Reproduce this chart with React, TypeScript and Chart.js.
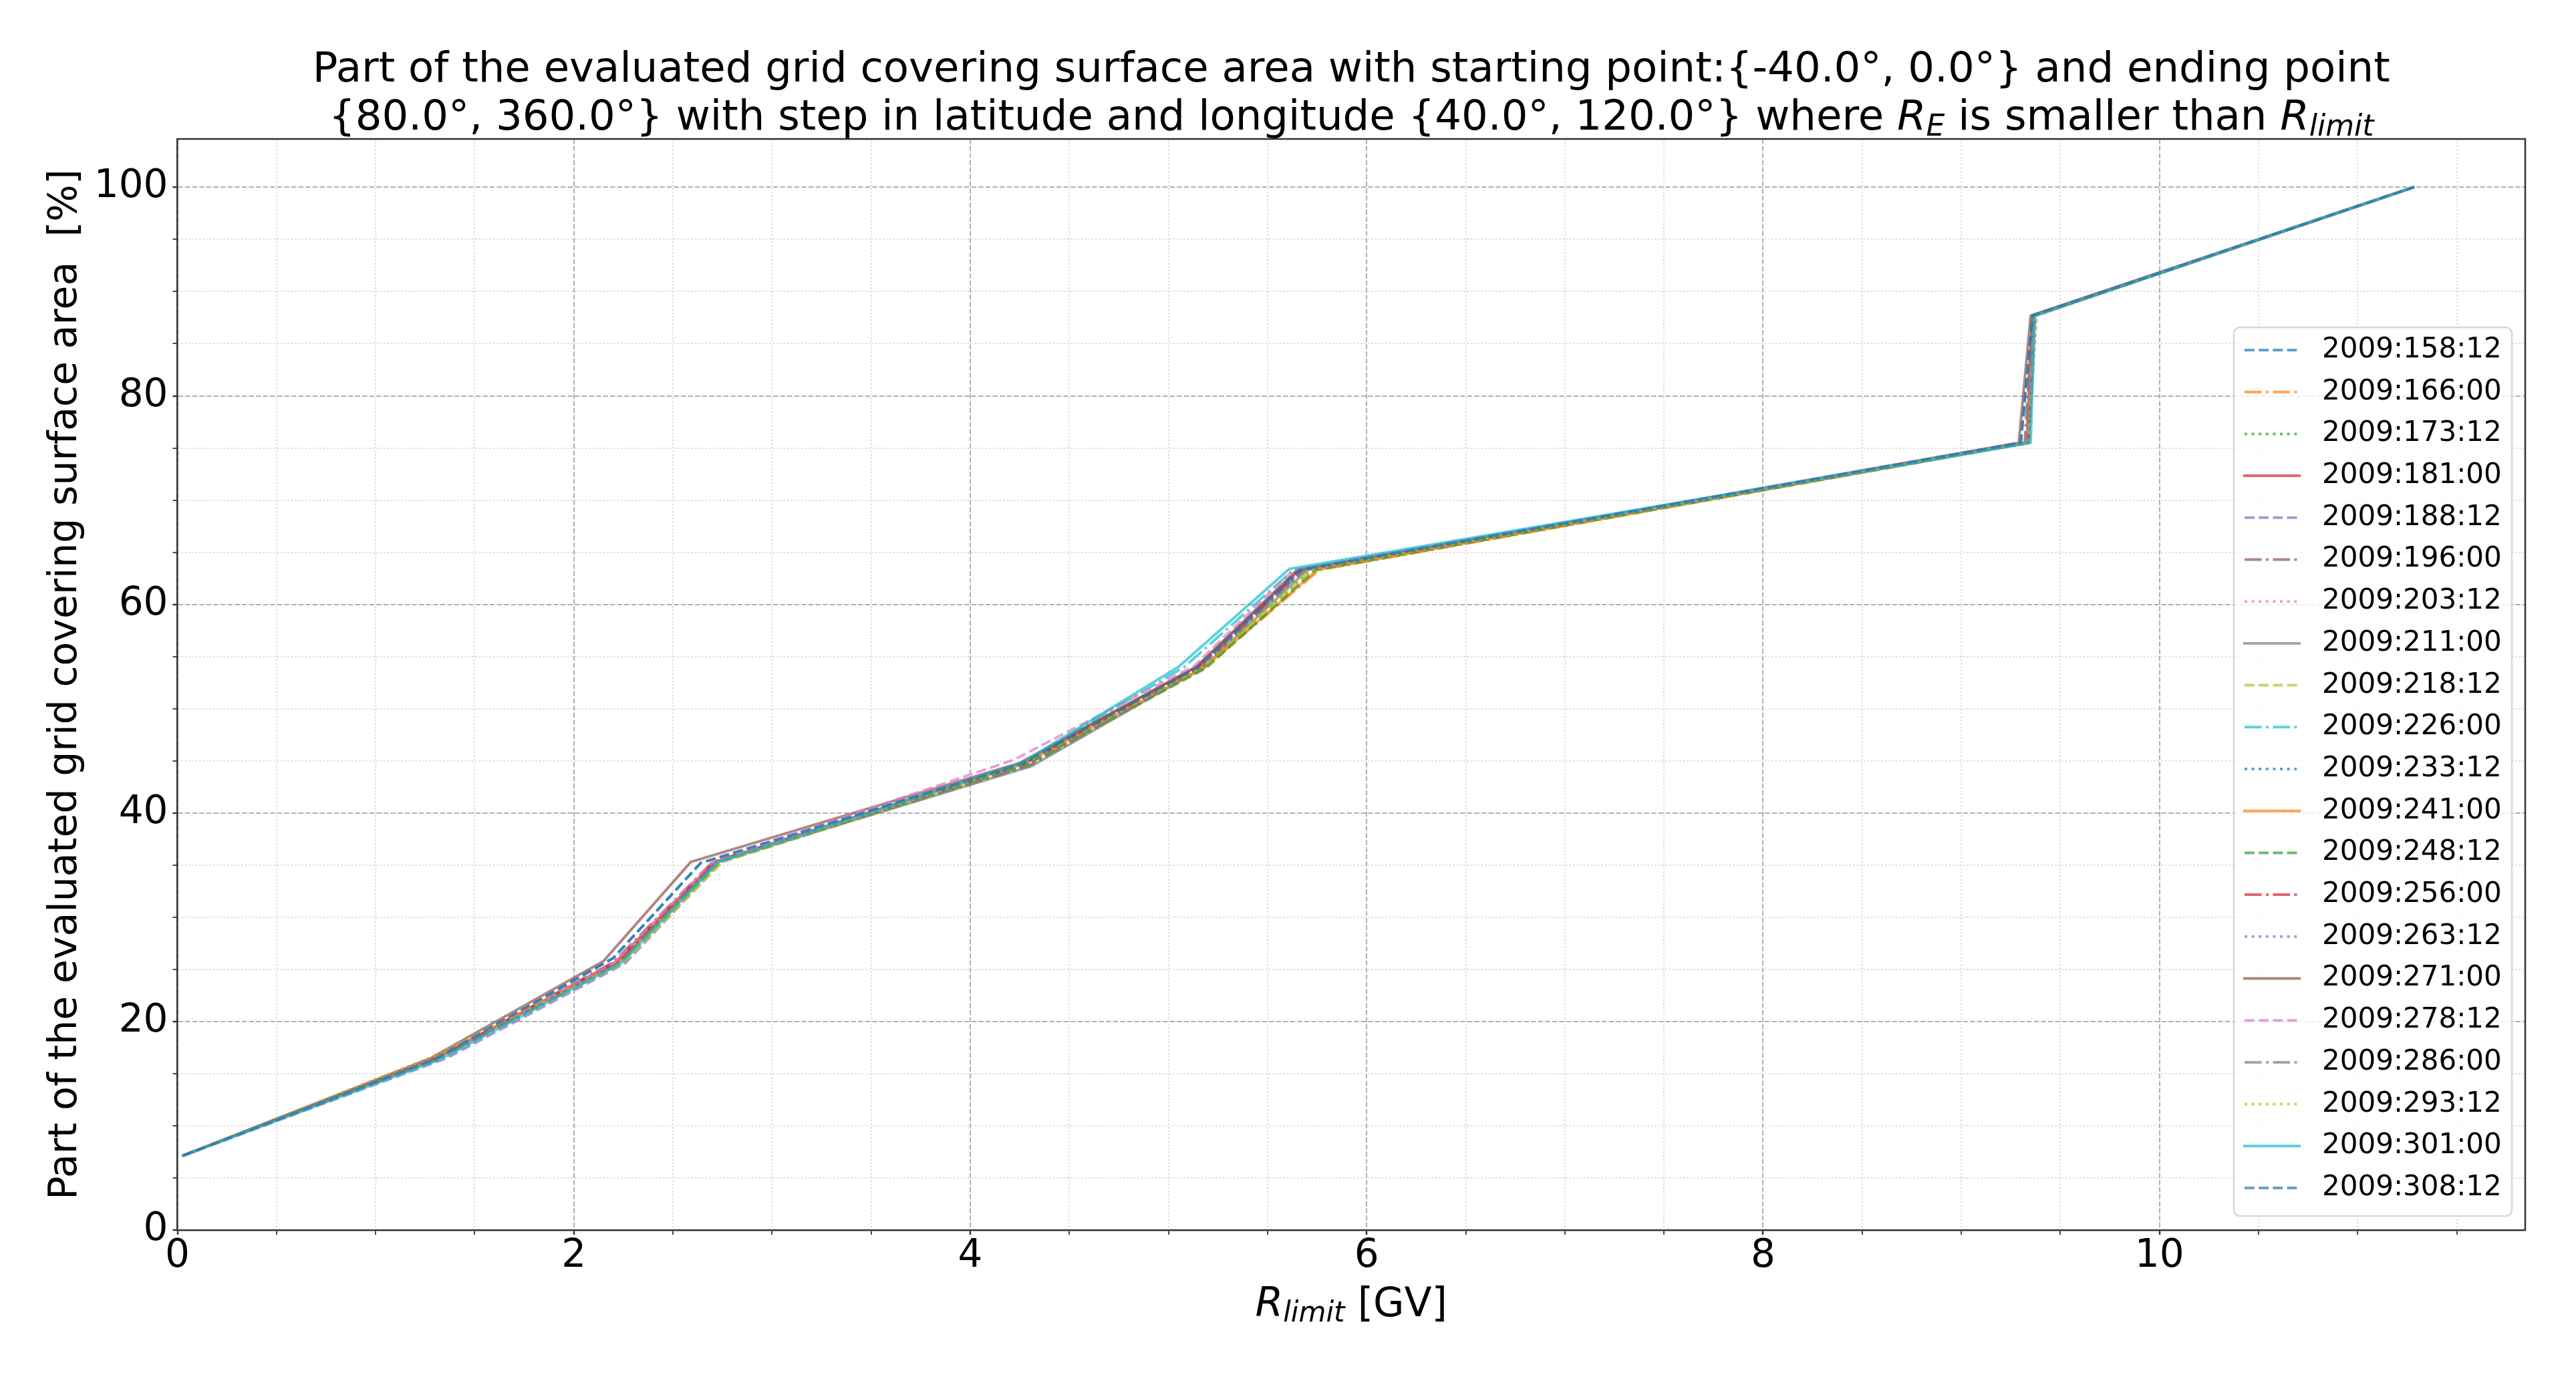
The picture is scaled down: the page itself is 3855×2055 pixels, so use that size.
import React, { useEffect, useRef } from 'react';
import { Chart, registerables } from 'chart.js';

Chart.register(...registerables);

// ---------------- data ----------------
const X_MIN = 0;
const X_MAX = 11.845;
const Y_MIN = 0;
const Y_MAX = 104.64;
const X_MINOR_STEP = 0.5;
const X_MAJOR_STEP = 2;
const Y_MINOR_STEP = 5;
const Y_MAJOR_STEP = 20;

const seriesLabels = [
  '2009:158:12', '2009:166:00', '2009:173:12', '2009:181:00', '2009:188:12',
  '2009:196:00', '2009:203:12', '2009:211:00', '2009:218:12', '2009:226:00',
  '2009:233:12', '2009:241:00', '2009:248:12', '2009:256:00', '2009:263:12',
  '2009:271:00', '2009:278:12', '2009:286:00', '2009:293:12', '2009:301:00',
  '2009:308:12',
];

// [R_limit (GV), part of area (%)]
const d158_12: [number, number][] = [[0.03, 7.15], [1.30, 16.4], [2.20, 26.1], [2.64, 35.2], [4.26, 44.7], [5.16, 54.0], [5.68, 63.3], [9.30, 75.5], [9.36, 87.7], [11.28, 100]];
const d166_00: [number, number][] = [[0.03, 7.15], [1.32, 16.4], [2.24, 25.6], [2.73, 35.3], [4.27, 44.7], [5.18, 53.9], [5.76, 63.3], [9.33, 75.5], [9.37, 87.7], [11.28, 100]];
const d173_12: [number, number][] = [[0.03, 7.15], [1.29, 16.4], [2.22, 25.6], [2.72, 35.3], [4.26, 44.7], [5.17, 54.0], [5.72, 63.3], [9.34, 75.5], [9.37, 87.7], [11.28, 100]];
const d181_00: [number, number][] = [[0.03, 7.15], [1.30, 16.4], [2.21, 25.7], [2.71, 35.3], [4.25, 44.7], [5.14, 54.0], [5.66, 63.3], [9.33, 75.5], [9.36, 87.7], [11.28, 100]];
const d188_12: [number, number][] = [[0.03, 7.15], [1.36, 16.5], [2.26, 25.6], [2.74, 35.3], [4.28, 44.6], [5.16, 54.0], [5.65, 63.3], [9.34, 75.5], [9.37, 87.7], [11.28, 100]];
const d196_00: [number, number][] = [[0.03, 7.15], [1.30, 16.4], [2.20, 25.7], [2.70, 35.3], [4.30, 44.6], [5.17, 54.0], [5.67, 63.3], [9.32, 75.5], [9.36, 87.7], [11.28, 100]];
const d203_12: [number, number][] = [[0.03, 7.15], [1.27, 16.4], [2.20, 25.7], [2.71, 35.3], [4.25, 44.7], [5.12, 53.3], [5.66, 63.3], [9.34, 75.5], [9.38, 87.7], [11.28, 100]];
const d211_00: [number, number][] = [[0.03, 7.15], [1.30, 16.4], [2.22, 25.6], [2.72, 35.3], [4.31, 44.5], [5.18, 54.0], [5.70, 63.3], [9.33, 75.5], [9.36, 87.7], [11.28, 100]];
const d218_12: [number, number][] = [[0.03, 7.15], [1.28, 16.4], [2.25, 25.6], [2.75, 35.3], [4.28, 44.6], [5.18, 54.0], [5.72, 63.3], [9.34, 75.5], [9.37, 87.7], [11.28, 100]];
const d226_00: [number, number][] = [[0.03, 7.15], [1.31, 16.4], [2.23, 25.6], [2.72, 35.3], [4.26, 44.8], [5.08, 54.0], [5.63, 63.3], [9.34, 75.5], [9.37, 87.7], [11.28, 100]];
const d233_12: [number, number][] = [[0.03, 7.15], [1.30, 16.4], [2.22, 25.6], [2.72, 35.3], [4.26, 44.7], [5.15, 54.0], [5.67, 63.3], [9.34, 75.5], [9.37, 87.7], [11.28, 100]];
const d241_00: [number, number][] = [[0.03, 7.15], [1.29, 16.4], [2.22, 25.6], [2.73, 35.3], [4.27, 44.7], [5.18, 53.9], [5.75, 63.3], [9.33, 75.5], [9.37, 87.7], [11.28, 100]];
const d248_12: [number, number][] = [[0.03, 7.15], [1.31, 16.4], [2.23, 25.6], [2.73, 35.3], [4.28, 44.6], [5.19, 53.9], [5.74, 63.3], [9.34, 75.5], [9.37, 87.7], [11.28, 100]];
const d256_00: [number, number][] = [[0.03, 7.15], [1.30, 16.4], [2.22, 25.7], [2.71, 35.3], [4.27, 44.7], [5.15, 54.0], [5.67, 63.3], [9.34, 75.5], [9.37, 87.7], [11.28, 100]];
const d263_12: [number, number][] = [[0.03, 7.15], [1.32, 16.4], [2.23, 25.6], [2.72, 35.3], [4.27, 44.7], [5.16, 54.0], [5.67, 63.3], [9.34, 75.5], [9.37, 87.7], [11.28, 100]];
const d271_00: [number, number][] = [[0.03, 7.15], [1.28, 16.5], [2.15, 25.8], [2.59, 35.3], [4.25, 44.8], [5.14, 54.0], [5.65, 63.3], [9.29, 75.5], [9.35, 87.7], [11.28, 100]];
const d278_12: [number, number][] = [[0.03, 7.15], [1.29, 16.4], [2.21, 25.7], [2.70, 35.3], [4.22, 45.1], [5.13, 54.1], [5.63, 63.3], [9.33, 75.5], [9.37, 87.7], [11.28, 100]];
const d286_00: [number, number][] = [[0.03, 7.15], [1.31, 16.4], [2.23, 25.6], [2.72, 35.3], [4.30, 44.5], [5.17, 54.0], [5.69, 63.3], [9.33, 75.5], [9.36, 87.7], [11.28, 100]];
const d293_12: [number, number][] = [[0.03, 7.15], [1.27, 16.5], [2.24, 25.6], [2.74, 35.3], [4.27, 44.7], [5.17, 54.0], [5.71, 63.3], [9.34, 75.5], [9.38, 87.7], [11.28, 100]];
const d301_00: [number, number][] = [[0.03, 7.15], [1.33, 16.4], [2.24, 25.6], [2.73, 35.3], [4.26, 44.8], [5.05, 54.0], [5.61, 63.4], [9.35, 75.5], [9.37, 87.7], [11.28, 100]];
const d308_12: [number, number][] = [[0.03, 7.15], [1.30, 16.4], [2.20, 26.1], [2.64, 35.2], [4.26, 44.7], [5.15, 54.0], [5.66, 63.3], [9.30, 75.5], [9.36, 87.7], [11.28, 100]];

const seriesData = [
  d158_12, d166_00, d173_12, d181_00, d188_12, d196_00, d203_12, d211_00, d218_12, d226_00,
  d233_12, d241_00, d248_12, d256_00, d263_12, d271_00, d278_12, d286_00, d293_12, d301_00, d308_12,
];

const xTickLabelValues = [0, 2, 4, 6, 8, 10];
const yTickLabelValues = [0, 20, 40, 60, 80, 100];

// ---------------- styles ----------------
const FONT_FAMILY = '"DejaVu Sans", sans-serif';
const TAB10 = ['#1f77b4', '#ff7f0e', '#2ca02c', '#d62728', '#9467bd', '#8c564b', '#e377c2', '#7f7f7f', '#bcbd22', '#17becf'];
const LINE_STYLES = ['--', '-.', ':', '-'];
const LW = 4;
const ALPHA = 0.7;

function rgba(hex: string, a: number) {
  const n = parseInt(hex.slice(1), 16);
  return `rgba(${(n >> 16) & 255},${(n >> 8) & 255},${n & 255},${a})`;
}
function dashFor(style: string): number[] {
  if (style === '--') return [3.7 * LW, 1.6 * LW];
  if (style === '-.') return [6.4 * LW, 1.6 * LW, 1 * LW, 1.6 * LW];
  if (style === ':') return [1 * LW, 1.65 * LW];
  return [];
}
const near = (v: number, step: number) => Math.abs(v / step - Math.round(v / step)) < 1e-6;

type Seg = { t: string; it?: boolean; sub?: boolean };
const titleLine1: Seg[] = [{ t: 'Part of the evaluated grid covering surface area with starting point:{-40.0°, 0.0°} and ending point' }];
const titleLine2: Seg[] = [
  { t: '{80.0°, 360.0°} with step in latitude and longitude {40.0°, 120.0°} where ' },
  { t: 'R', it: true }, { t: 'E', it: true, sub: true },
  { t: ' is smaller than ' },
  { t: 'R', it: true }, { t: 'limit', it: true, sub: true },
];
const xLabel: Seg[] = [{ t: 'R', it: true }, { t: 'limit', it: true, sub: true }, { t: ' [GV]' }];
const yLabel = 'Part of the evaluated grid covering surface area  [%]';

function segFont(s: Seg, size: number) {
  return `${s.it ? 'italic ' : ''}${s.sub ? Math.round(size * 0.7) : size}px ${FONT_FAMILY}`;
}
function drawRich(ctx: CanvasRenderingContext2D, segs: Seg[], cx: number, baseline: number, size: number, subShift: number) {
  let total = 0;
  const widths = segs.map((s) => {
    ctx.font = segFont(s, size);
    const w = ctx.measureText(s.t).width;
    total += w;
    return w;
  });
  let x = cx - total / 2;
  ctx.textAlign = 'left';
  ctx.textBaseline = 'alphabetic';
  ctx.fillStyle = '#000';
  segs.forEach((s, i) => {
    ctx.font = segFont(s, size);
    ctx.fillText(s.t, x, baseline + (s.sub ? subShift : 0));
    x += widths[i];
  });
}

const decorPlugin = {
  id: 'decor',
  afterDraw(chart: any) {
    const ctx: CanvasRenderingContext2D = chart.ctx;
    const ca = chart.chartArea;
    ctx.save();
    // top & right spines
    ctx.strokeStyle = '#333';
    ctx.lineWidth = 2.5;
    ctx.setLineDash([]);
    ctx.beginPath();
    ctx.moveTo(ca.left, ca.top);
    ctx.lineTo(ca.right, ca.top);
    ctx.lineTo(ca.right, ca.bottom);
    ctx.stroke();

    // legend
    const lw = 416, lh = 1330;
    const left = ca.right - 20 - lw;
    const top = ca.bottom - 21 - lh;
    ctx.beginPath();
    (ctx as any).roundRect(left, top, lw, lh, 9);
    ctx.fillStyle = 'rgba(255,255,255,0.8)';
    ctx.fill();
    ctx.strokeStyle = '#d6d6d6';
    ctx.lineWidth = 2.5;
    ctx.stroke();
    chart.data.datasets.forEach((ds: any, i: number) => {
      const y = top + 34 + i * 62.7;
      ctx.save();
      ctx.strokeStyle = ds.borderColor;
      ctx.lineWidth = ds.borderWidth;
      ctx.setLineDash(ds.borderDash || []);
      ctx.lineCap = ds.borderCapStyle;
      ctx.beginPath();
      ctx.moveTo(left + 16, y);
      ctx.lineTo(left + 98, y);
      ctx.stroke();
      ctx.restore();
      ctx.fillStyle = '#000';
      ctx.font = `42px ${FONT_FAMILY}`;
      ctx.textAlign = 'left';
      ctx.textBaseline = 'middle';
      ctx.fillText(ds.label, left + 132, y);
    });

    // title and x label
    const cx = (ca.left + ca.right) / 2;
    drawRich(ctx, titleLine1, cx, 122, 62.5, 9);
    drawRich(ctx, titleLine2, cx, 194, 62.5, 9);
    drawRich(ctx, xLabel, cx, 1970, 60, 8);
    ctx.restore();
  },
};

export default function App() {
  const ref = useRef<HTMLCanvasElement | null>(null);
  useEffect(() => {
    document.body.style.margin = '0';
    const canvas = ref.current;
    if (!canvas) return;
    Chart.defaults.font.family = FONT_FAMILY;
    Chart.defaults.color = '#000';

    const datasets = seriesData.map((pts, i) => {
      const style = LINE_STYLES[i % 4];
      return {
        label: seriesLabels[i],
        data: pts.map(([x, y]) => ({ x, y })),
        borderColor: rgba(TAB10[i % 10], ALPHA),
        backgroundColor: rgba(TAB10[i % 10], ALPHA),
        borderWidth: LW,
        borderDash: dashFor(style),
        borderCapStyle: style === '-' ? 'square' : 'butt',
        borderJoinStyle: 'round',
        pointRadius: 0,
        pointHoverRadius: 0,
        tension: 0,
        fill: false,
        order: seriesData.length - i,
      };
    });

    const chart = new Chart(canvas, {
      type: 'line',
      data: { datasets } as any,
      plugins: [decorPlugin as any],
      options: {
        animation: false,
        responsive: false,
        devicePixelRatio: 1,
        layout: { padding: { left: 0, top: 208, right: 76, bottom: 0 } },
        plugins: {
          legend: { display: false },
          title: { display: false },
          tooltip: { enabled: false },
        },
        scales: {
          x: {
            type: 'linear',
            min: X_MIN,
            max: X_MAX,
            afterFit: (s: any) => { s.height = 214; },
            ticks: {
              stepSize: X_MINOR_STEP,
              autoSkip: false,
              includeBounds: false,
              maxRotation: 0,
              minRotation: 0,
              padding: 3.5,
              color: '#000',
              font: { size: 58, lineHeight: 1 },
              callback: (v: any) => (xTickLabelValues.some((t) => Math.abs(t - v) < 1e-6) ? String(Math.round(v)) : ''),
            },
            grid: {
              color: (c: any) => (c.tick && near(c.tick.value, X_MAJOR_STEP) ? '#b0b0b0' : '#d6d6d6'),
              lineWidth: 2,
              tickLength: 7,
              tickColor: '#333',
              tickWidth: (c: any) => (c.tick && near(c.tick.value, X_MAJOR_STEP) ? 2.5 : 1.8),
            },
            border: {
              display: true,
              color: '#333',
              width: 2.5,
              dash: (c: any) => (!c.tick ? [] : near(c.tick.value, X_MAJOR_STEP) ? [7.4, 3.2] : [2, 3.3]),
            },
          },
          y: {
            type: 'linear',
            min: Y_MIN,
            max: Y_MAX,
            afterFit: (s: any) => { s.width = 265.5; },
            ticks: {
              stepSize: Y_MINOR_STEP,
              autoSkip: false,
              includeBounds: false,
              padding: 7,
              color: '#000',
              font: { size: 58, lineHeight: 1 },
              callback: (v: any) => (yTickLabelValues.some((t) => Math.abs(t - v) < 1e-6) ? String(Math.round(v)) : ''),
            },
            grid: {
              color: (c: any) => (c.tick && near(c.tick.value, Y_MAJOR_STEP) ? '#b0b0b0' : '#d6d6d6'),
              lineWidth: 2,
              tickLength: 7,
              tickColor: '#333',
              tickWidth: (c: any) => (c.tick && near(c.tick.value, Y_MAJOR_STEP) ? 2.5 : 1.8),
            },
            border: {
              display: true,
              color: '#333',
              width: 2.5,
              dash: (c: any) => (!c.tick ? [] : near(c.tick.value, Y_MAJOR_STEP) ? [7.4, 3.2] : [2, 3.3]),
            },
            title: {
              display: true,
              text: yLabel,
              color: '#000',
              font: { size: 58.5, lineHeight: 1.2 },
              padding: { top: 64, bottom: 0 },
            },
          },
        },
      } as any,
    });
    return () => chart.destroy();
  }, []);

  return (
    <div style={{ width: 3855, height: 2055 }}>
      <canvas ref={ref} width={3855} height={2055} style={{ display: 'block', width: 3855, height: 2055 }} />
    </div>
  );
}
